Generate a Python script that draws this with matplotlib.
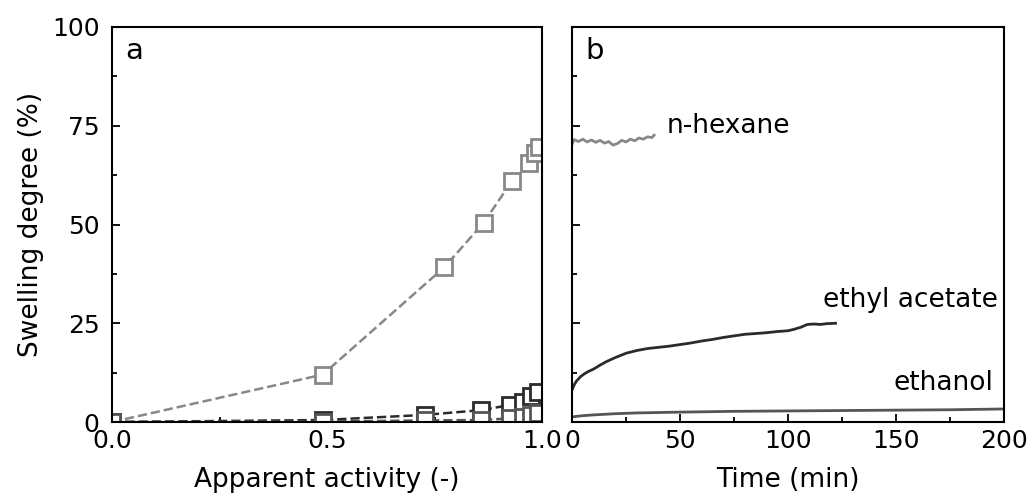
import matplotlib
matplotlib.use("Agg")
import matplotlib.pyplot as plt
from matplotlib.ticker import MultipleLocator

# ---- Panel a data: swelling vs apparent activity ----
act_hexane = [0.0, 0.49, 0.773, 0.864, 0.930, 0.970, 0.984, 0.993]
sw_hexane = [0.0, 12.0, 39.2, 50.4, 61.0, 65.6, 68.0, 69.6]

act_etac = [0.0, 0.49, 0.728, 0.858, 0.925, 0.955, 0.975, 0.990]
sw_etac = [0.0, 0.5, 1.8, 3.0, 4.3, 5.1, 6.6, 7.6]

act_etoh = [0.0, 0.49, 0.728, 0.858, 0.925, 0.955, 0.975, 0.990]
sw_etoh = [0.0, 0.1, 0.4, 0.5, 0.9, 1.3, 1.8, 2.4]

# ---- Panel b data: swelling vs time ----
t_hexane = [0, 1, 3, 5, 7, 9, 11, 13, 15, 17, 19, 21, 23, 25, 27, 29, 31,
            33, 35, 37, 38]
sw_t_hexane = [70.3, 71.5, 71.0, 71.6, 70.9, 71.4, 70.8, 71.3, 70.6, 71.0,
               70.1, 70.5, 71.3, 70.9, 71.6, 71.2, 71.9, 71.6, 72.2, 72.0,
               72.6]

t_etac = [0, 1, 2, 4, 6, 8, 10, 13, 16, 20, 25, 30, 35, 40, 45, 50, 55, 60,
          65, 70, 75, 80, 85, 90, 95, 100, 103, 106, 109, 112, 115, 118, 122]
sw_t_etac = [8.1, 9.4, 10.3, 11.5, 12.3, 12.9, 13.4, 14.4, 15.3, 16.3, 17.4,
             18.1, 18.6, 18.9, 19.2, 19.6, 20.0, 20.5, 20.9, 21.4, 21.8, 22.2,
             22.4, 22.6, 22.9, 23.1, 23.5, 24.0, 24.7, 24.8, 24.7, 24.9, 25.0]

t_etoh = [0, 5, 10, 20, 30, 40, 50, 75, 100, 125, 150, 175, 200]
sw_t_etoh = [1.3, 1.6, 1.8, 2.1, 2.3, 2.4, 2.5, 2.7, 2.8, 2.9, 3.0, 3.1, 3.3]

c_hex = "#888888"
c_etac = "#2b2b2b"
c_etoh = "#555555"

FS = 18
FL = 19
plt.rcParams["font.family"] = "DejaVu Sans"
plt.rcParams["font.size"] = FS

fig = plt.figure(figsize=(10.32, 4.93), dpi=100)
axa = fig.add_axes([112/1032, 71/493, 430/1032, 395/493])
axb = fig.add_axes([572/1032, 71/493, 432/1032, 395/493])

mk = dict(marker="s", ms=12, mew=2, mfc="white", ls="--", lw=1.8)
axa.plot(act_hexane, sw_hexane, color=c_hex, mec=c_hex, **mk)
axa.plot(act_etac, sw_etac, color=c_etac, mec=c_etac, **mk)
axa.plot(act_etoh, sw_etoh, color=c_etoh, mec=c_etoh, **mk)

axb.plot(t_hexane, sw_t_hexane, color=c_hex, lw=2)
axb.plot(t_etac, sw_t_etac, color=c_etac, lw=2)
axb.plot(t_etoh, sw_t_etoh, color=c_etoh, lw=2)

axa.set_xlim(0, 1)
axa.set_ylim(0, 100)
axa.xaxis.set_major_locator(MultipleLocator(0.5))
axa.xaxis.set_minor_locator(MultipleLocator(0.25))
axa.yaxis.set_major_locator(MultipleLocator(25))
axa.yaxis.set_minor_locator(MultipleLocator(12.5))
axa.set_xlabel("Apparent activity (-)", fontsize=FL, labelpad=10)
axa.set_ylabel("Swelling degree (%)", fontsize=FL, labelpad=6)

axb.set_xlim(0, 200)
axb.set_ylim(0, 100)
axb.xaxis.set_major_locator(MultipleLocator(50))
axb.xaxis.set_minor_locator(MultipleLocator(25))
axb.yaxis.set_major_locator(MultipleLocator(25))
axb.yaxis.set_minor_locator(MultipleLocator(12.5))
axb.set_yticklabels([])
axb.set_xlabel("Time (min)", fontsize=FL, labelpad=10)

for ax in (axa, axb):
    ax.tick_params(which="both", direction="in", top=False, right=False,
                   labelsize=FS, width=1.3)
    ax.tick_params(which="major", length=6)
    ax.tick_params(which="minor", length=3.5)
    ax.tick_params(axis="y", which="both", pad=9)
    ax.tick_params(axis="x", which="both", pad=5)
    for s in ax.spines.values():
        s.set_linewidth(1.5)

axa.text(0.03, 0.94, "a", transform=axa.transAxes, fontsize=FS + 3, va="center")
axb.text(0.03, 0.94, "b", transform=axb.transAxes, fontsize=FS + 3, va="center")

axb.text(44, 75, "n-hexane", fontsize=FL, va="center", ha="left")
axb.text(116, 31, "ethyl acetate", fontsize=FL, va="center", ha="left")
axb.text(195, 10, "ethanol", fontsize=FL, va="center", ha="right")

fig.savefig("out.png", dpi=100)
